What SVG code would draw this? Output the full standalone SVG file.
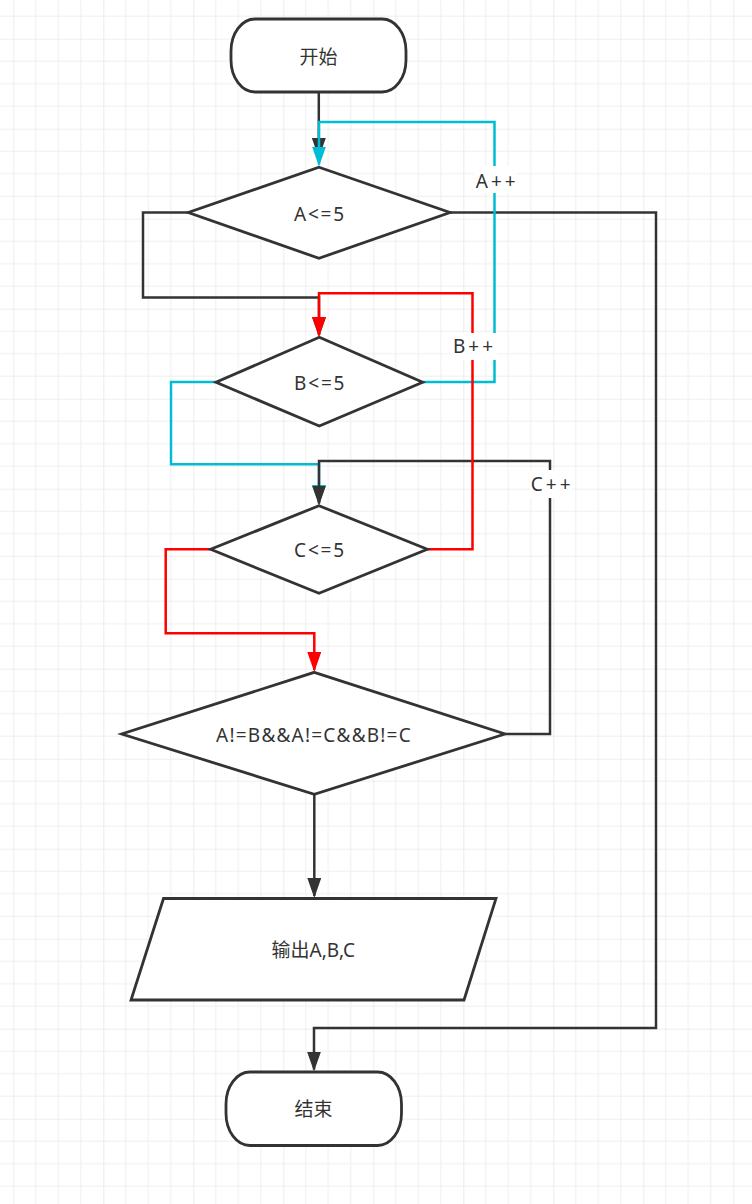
<svg xmlns="http://www.w3.org/2000/svg" width="752" height="1204" viewBox="0 0 752 1204">
  <style>
    .shape { fill: #ffffff; stroke: #333333; stroke-width: 2.8; }
    .edge { fill: none; stroke-width: 2.5; stroke-linejoin: miter; }
    .dark { stroke: #333333; }
    .cyan { stroke: #00bcd4; }
    .red { stroke: #ff0000; }
    .txt { font-family: "Noto Sans", "Noto Sans CJK SC", sans-serif; font-size: 19px; fill: #333333; text-anchor: middle; }
    .sp { letter-spacing: 1.8px; }
    .spl { letter-spacing: 1.2px; }
    .lbl { letter-spacing: 3px; }
    .lblbg { fill: #ffffff; stroke: none; }
  </style>
  <defs>
    <pattern id="grid" patternUnits="userSpaceOnUse" x="13.3" y="38.7" width="90" height="90">
      <path d="M22.5 0V90M45 0V90M67.5 0V90M0 22.5H90M0 45H90M0 67.5H90" stroke="#efefef" stroke-width="1" fill="none"/>
      <path d="M0 0V90M0 0H90" stroke="#e0e0e0" stroke-width="1.2" fill="none"/>
    </pattern>
    <marker id="arrDark" viewBox="0 0 20 14" refX="18" refY="7" markerWidth="20" markerHeight="14" markerUnits="userSpaceOnUse" orient="auto">
      <path d="M0 0L20 7L0 14Z" fill="#333333"/>
    </marker>
    <marker id="arrCyan" viewBox="0 0 20 14" refX="18" refY="7" markerWidth="20" markerHeight="14" markerUnits="userSpaceOnUse" orient="auto">
      <path d="M0 0L20 7L0 14Z" fill="#00bcd4"/>
    </marker>
    <marker id="arrRed" viewBox="0 0 20 14" refX="18" refY="7" markerWidth="20" markerHeight="14" markerUnits="userSpaceOnUse" orient="auto">
      <path d="M0 0L20 7L0 14Z" fill="#ff0000"/>
    </marker>
  </defs>
  <rect width="752" height="1204" fill="#ffffff"/>
  <rect width="752" height="1204" fill="url(#grid)"/>

  <g id="connectors">
    <path class="edge dark" d="M318.8 92V156" marker-end="url(#arrDark)"/>
    <path class="edge dark" d="M188 212.5H143V297.5H319V335" marker-end="url(#arrDark)"/>
    <path class="edge dark" d="M450 212.5H656V1028H314V1069.5" marker-end="url(#arrDark)"/>
    <path class="edge cyan" d="M423 382H494.5V122H319V164.5" marker-end="url(#arrCyan)"/>
    <path class="edge cyan" d="M216 382H171V464.3H319V503" marker-end="url(#arrCyan)"/>
    <path class="edge dark" d="M505 734H550V461H319V503.5" marker-end="url(#arrDark)"/>
    <path class="edge red" d="M427 549.3H472.5V293.3H319V335" marker-end="url(#arrRed)"/>
    <path class="edge red" d="M211 549.3H165.7V633.3H314.3V670" marker-end="url(#arrRed)"/>
    <path class="edge dark" d="M314.3 795V896" marker-end="url(#arrDark)"/>
    <g id="label-a">
      <rect class="lblbg" x="474" y="166" width="43" height="27"/>
      <text class="txt lbl" x="497.3" y="188.3">A++</text>
    </g>
    <g id="label-b">
      <rect class="lblbg" x="452" y="333" width="45" height="27"/>
      <text class="txt lbl" x="474.5" y="353.3">B++</text>
    </g>
    <g id="label-c">
      <rect class="lblbg" x="530" y="470" width="42" height="28"/>
      <text class="txt lbl" x="552.2" y="491">C++</text>
    </g>
  </g>

  <g id="start">
    <rect class="shape" x="231" y="19" width="175" height="73" rx="24" ry="32"/>
    <text class="txt" x="318.5" y="63.5">开始</text>
  </g>
  <g id="decA">
    <polygon class="shape" points="319,167.3 450,212.5 319,258.3 188.3,212.5"/>
    <text class="txt sp" x="320" y="220.7">A&lt;=5</text>
  </g>
  <g id="decB">
    <polygon class="shape" points="319.3,337.3 422.7,382.3 319.3,426 216,382.3"/>
    <text class="txt sp" x="320.2" y="390">B&lt;=5</text>
  </g>
  <g id="decC">
    <polygon class="shape" points="319,505.7 427.3,549.3 319,593.3 210.7,549.3"/>
    <text class="txt sp" x="320" y="557.3">C&lt;=5</text>
  </g>
  <g id="decAll">
    <polygon class="shape" points="314.3,672.3 505,734 314.3,794.3 121.7,734"/>
    <text class="txt spl" x="314" y="742">A!=B&amp;&amp;A!=C&amp;&amp;B!=C</text>
  </g>
  <g id="output">
    <polygon class="shape" points="163.5,898.5 496,898.5 464,1000 131,1000"/>
    <text class="txt" x="313.3" y="957">输出A,B,C</text>
  </g>
  <g id="end">
    <rect class="shape" x="226" y="1072" width="175.5" height="73.5" rx="24" ry="32"/>
    <text class="txt" x="313.5" y="1116">结束</text>
  </g>
</svg>
